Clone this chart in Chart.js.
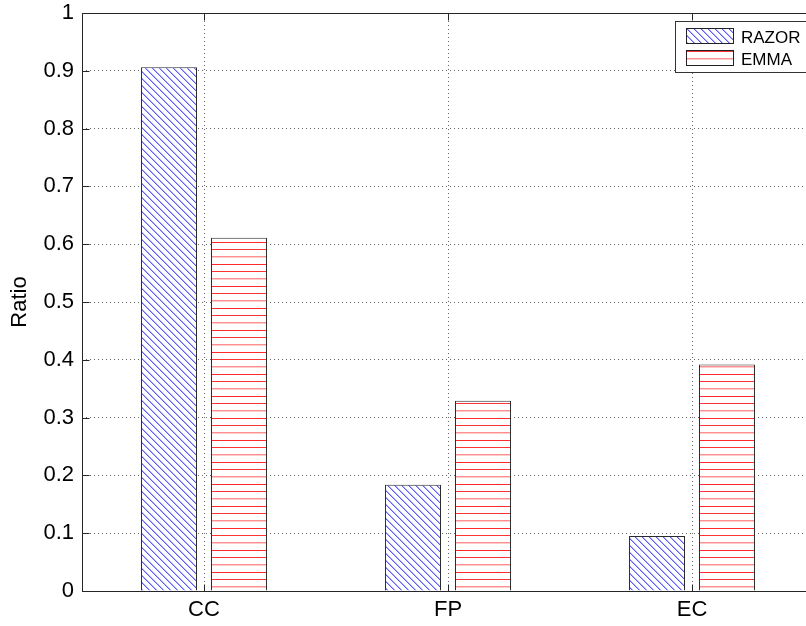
<!DOCTYPE html>
<html>
<head>
<meta charset="utf-8">
<script src="https://cdn.jsdelivr.net/npm/chart.js@4/dist/chart.umd.min.js"></script>
<style>
  html, body { margin: 0; padding: 0; background: #fff; overflow: hidden; }
  #wrap { width: 806px; height: 626px; overflow: hidden; }
</style>
</head>
<body>
<div id="wrap"><canvas id="ratioChart" width="830" height="626"></canvas></div>
<script>
// data
const categories = ["CC", "FP", "EC"];
const razor = [0.906, 0.184, 0.095];
const emma = [0.611, 0.329, 0.392];
const yTicks = [0, 0.1, 0.2, 0.3, 0.4, 0.5, 0.6, 0.7, 0.8, 0.9, 1];

const FONT = "'Liberation Sans', Arial, Helvetica, sans-serif";

// hatch fills (white background so grid lines stay behind bars)
function diagHatch() {
  let c = document.createElement("canvas");
  c.width = 7;
  c.height = 7;
  let g = c.getContext("2d");
  g.fillStyle = "#fff";
  g.fillRect(0, 0, 7, 7);
  for (let i = 0; i < 7; i++) {
    g.fillStyle = "#5c5cff";
    g.fillRect(i, i, 1, 1);
    g.fillStyle = "#aeaeff";
    g.fillRect((i + 1) % 7, i, 1, 1);
  }
  return g.createPattern(c, "repeat");
}

function horizHatch() {
  let c = document.createElement("canvas");
  c.width = 8;
  c.height = 22;
  let g = c.getContext("2d");
  g.fillStyle = "#fff";
  g.fillRect(0, 0, 8, 22);
  g.fillStyle = "#ff2a2a";
  g.fillRect(0, 0, 8, 1);
  g.fillStyle = "#ff3535";
  g.fillRect(0, 7, 8, 1);
  g.fillStyle = "#ff8e8e";
  g.fillRect(0, 14, 8, 1);
  g.fillStyle = "#ffcccc";
  g.fillRect(0, 15, 8, 1);
  return g.createPattern(c, "repeat");
}

const razorFill = diagHatch();
const emmaFill = horizHatch();

// axis box, inward tick marks and legend
const boxPlugin = {
  id: "box",
  afterDraw(chart) {
    const ctx = chart.ctx;
    const a = chart.chartArea;
    const x = chart.scales.x;
    const y = chart.scales.y;
    const L = Math.round(a.left) + 0.5;
    const R = Math.round(a.right) + 0.5;
    const T = Math.round(a.top) + 0.5;
    const B = Math.round(a.bottom) + 0.5;
    ctx.save();
    ctx.strokeStyle = "#262626";
    ctx.lineWidth = 1;
    ctx.strokeRect(L, T, R - L, B - T);
    ctx.beginPath();
    yTicks.forEach((v) => {
      let py = Math.round(y.getPixelForValue(v)) + 0.5;
      ctx.moveTo(L, py);
      ctx.lineTo(L + 7, py);
      ctx.moveTo(R, py);
      ctx.lineTo(R - 7, py);
    });
    categories.forEach((c, i) => {
      let px = Math.round(x.getPixelForValue(i)) + 0.5;
      ctx.moveTo(px, B);
      ctx.lineTo(px, B - 7);
      ctx.moveTo(px, T);
      ctx.lineTo(px, T + 7);
    });
    ctx.stroke();

    // legend
    ctx.fillStyle = "#fff";
    ctx.fillRect(675.5, 21.5, 200, 51);
    ctx.strokeStyle = "#333";
    ctx.strokeRect(675.5, 21.5, 200, 51);
    ctx.fillStyle = razorFill;
    ctx.fillRect(686, 28, 48, 15);
    ctx.strokeStyle = "#222";
    ctx.strokeRect(686.5, 28.5, 47, 15);
    ctx.fillStyle = emmaFill;
    ctx.fillRect(686, 50, 48, 16);
    ctx.strokeRect(686.5, 50.5, 47, 15);
    ctx.fillStyle = "#000";
    ctx.font = "17px " + FONT;
    ctx.textAlign = "left";
    ctx.textBaseline = "alphabetic";
    ctx.fillText("RAZOR", 741, 42.5);
    ctx.fillText("EMMA", 741, 65);
    ctx.restore();
  },
};

const data = {
  labels: categories,
  datasets: [
    {
      label: "RAZOR",
      data: razor,
      backgroundColor: razorFill,
      borderColor: "#2b2b2b",
      borderWidth: 1,
      categoryPercentage: 0.574,
      barPercentage: 0.8,
    },
    {
      label: "EMMA",
      data: emma,
      backgroundColor: emmaFill,
      borderColor: "#2b2b2b",
      borderWidth: 1,
      categoryPercentage: 0.574,
      barPercentage: 0.8,
    },
  ],
};

const config = {
  type: "bar",
  data: data,
  plugins: [boxPlugin],
  options: {
    responsive: false,
    animation: false,
    devicePixelRatio: 1,
    layout: { padding: { left: 0, top: 13, right: 16, bottom: 0 } },
    plugins: {
      legend: { display: false },
      tooltip: { enabled: false },
    },
    scales: {
      x: {
        grid: {
          offset: false,
          drawTicks: false,
          color: "rgba(0,0,0,0.6)",
        },
        border: { display: false, dash: [1, 3] },
        ticks: {
          padding: 6,
          color: "#000",
          font: { family: FONT, size: 22 },
        },
        afterFit(scale) {
          scale.height = 35;
          scale.paddingLeft = 0;
          scale.paddingRight = 0;
        },
      },
      y: {
        min: 0,
        max: 1,
        grid: {
          drawTicks: false,
          color: "rgba(0,0,0,0.6)",
        },
        border: { display: false, dash: [1, 3] },
        ticks: {
          stepSize: 0.1,
          padding: 8,
          color: "#000",
          font: { family: FONT, size: 22 },
          callback: (v) => String(+v.toFixed(1)),
        },
        title: {
          display: true,
          text: "Ratio",
          color: "#000",
          padding: { top: 7, bottom: 0 },
          font: { family: FONT, size: 22 },
        },
        afterFit(scale) {
          scale.width = 82;
          scale.paddingTop = 0;
          scale.paddingBottom = 0;
        },
      },
    },
  },
};

const ctx = document.getElementById("ratioChart").getContext("2d");
let chart = new Chart(ctx, config);
</script>
</body>
</html>
